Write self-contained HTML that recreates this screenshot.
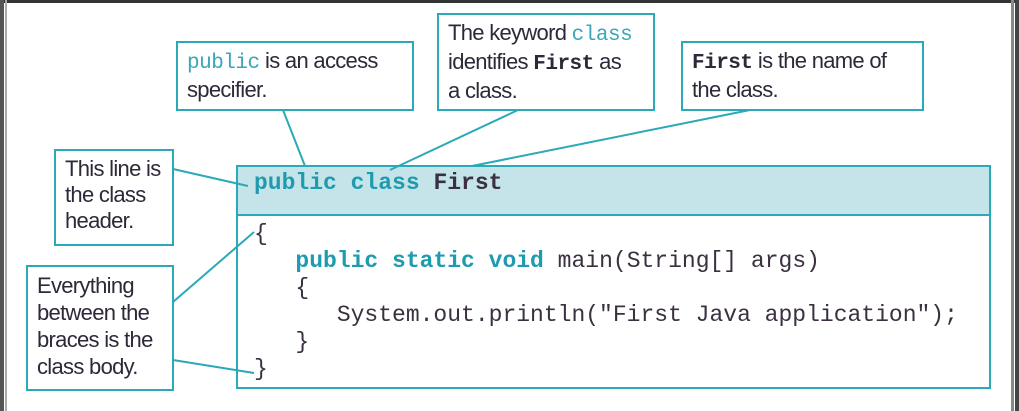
<!DOCTYPE html>
<html><head><style>
body{margin:0;width:1019px;height:411px;background:#fff;position:relative;overflow:hidden;font-family:"Liberation Sans",sans-serif;}
.frame{position:absolute;}
.box{position:absolute;border:2px solid #2aa9b8;box-sizing:border-box;background:#fff;color:#2f2838;font-size:22px;line-height:26px;padding:5px 9px;letter-spacing:-0.7px;white-space:nowrap;}
.m{font-family:"Liberation Mono",monospace;letter-spacing:-0.5px;font-size:21px;}
.k{color:#3aa7b8;}
.code{position:absolute;font-family:"Liberation Mono",monospace;font-size:23px;color:#3a3040;white-space:pre;line-height:27px;}
.kw{color:#1f9bb0;font-weight:bold;}
</style></head><body>
<div class="frame" style="left:0;top:0;width:1019px;height:3px;background:#333"></div>
<div class="frame" style="left:0;top:0;width:4px;height:411px;background:#555"></div>
<div class="frame" style="left:5px;top:0;width:2px;height:411px;background:#aaa"></div>
<div class="frame" style="left:1011px;top:0;width:3px;height:411px;background:#888"></div>
<div class="frame" style="left:1015px;top:0;width:4px;height:411px;background:#444"></div>

<div class="frame" style="left:236px;top:165px;width:755px;height:224px;border:2px solid #2aa9b8;box-sizing:border-box;"></div>
<div class="frame" style="left:238px;top:167px;width:751px;height:47px;background:#c4e4e9;border-bottom:2px solid #2aa9b8;"></div>

<svg style="position:absolute;left:0;top:0" width="1019" height="411">
<g stroke="#2aa9b8" stroke-width="2" fill="none">
<line x1="283" y1="110" x2="305" y2="166"/>
<line x1="518" y1="110" x2="390" y2="170"/>
<line x1="750" y1="110" x2="472" y2="166"/>
<line x1="173" y1="169" x2="248" y2="186"/>
<line x1="173" y1="302" x2="254" y2="232"/>
<line x1="173" y1="360" x2="254" y2="373"/>
</g></svg>

<div class="box" style="left:176px;top:41px;width:238px;height:70px;"><span class="m k">public</span> is an access<br>specifier.</div>
<div class="box" style="left:437px;top:13px;width:218px;height:98px;">The keyword <span class="m k">class</span><br>identifies <span class="m" style="font-weight:bold">First</span> as<br>a class.</div>
<div class="box" style="left:681px;top:41px;width:243px;height:70px;"><span class="m" style="font-weight:bold">First</span> is the name of<br>the class.</div>
<div class="box" style="left:54px;top:149px;width:120px;height:97px;">This line is<br>the class<br>header.</div>
<div class="box" style="left:26px;top:265px;width:148px;height:126px;line-height:27px;">Everything<br>between the<br>braces is the<br>class body.</div>

<div class="code" style="left:254px;top:168px;line-height:30px;"><span class="kw">public class</span> <b>First</b></div>
<div class="code" style="left:254px;top:221px;">{
   <span class="kw">public static void</span> main(String[] args)
   {
      System.out.println("First Java application");
   }
}</div>
</body></html>
